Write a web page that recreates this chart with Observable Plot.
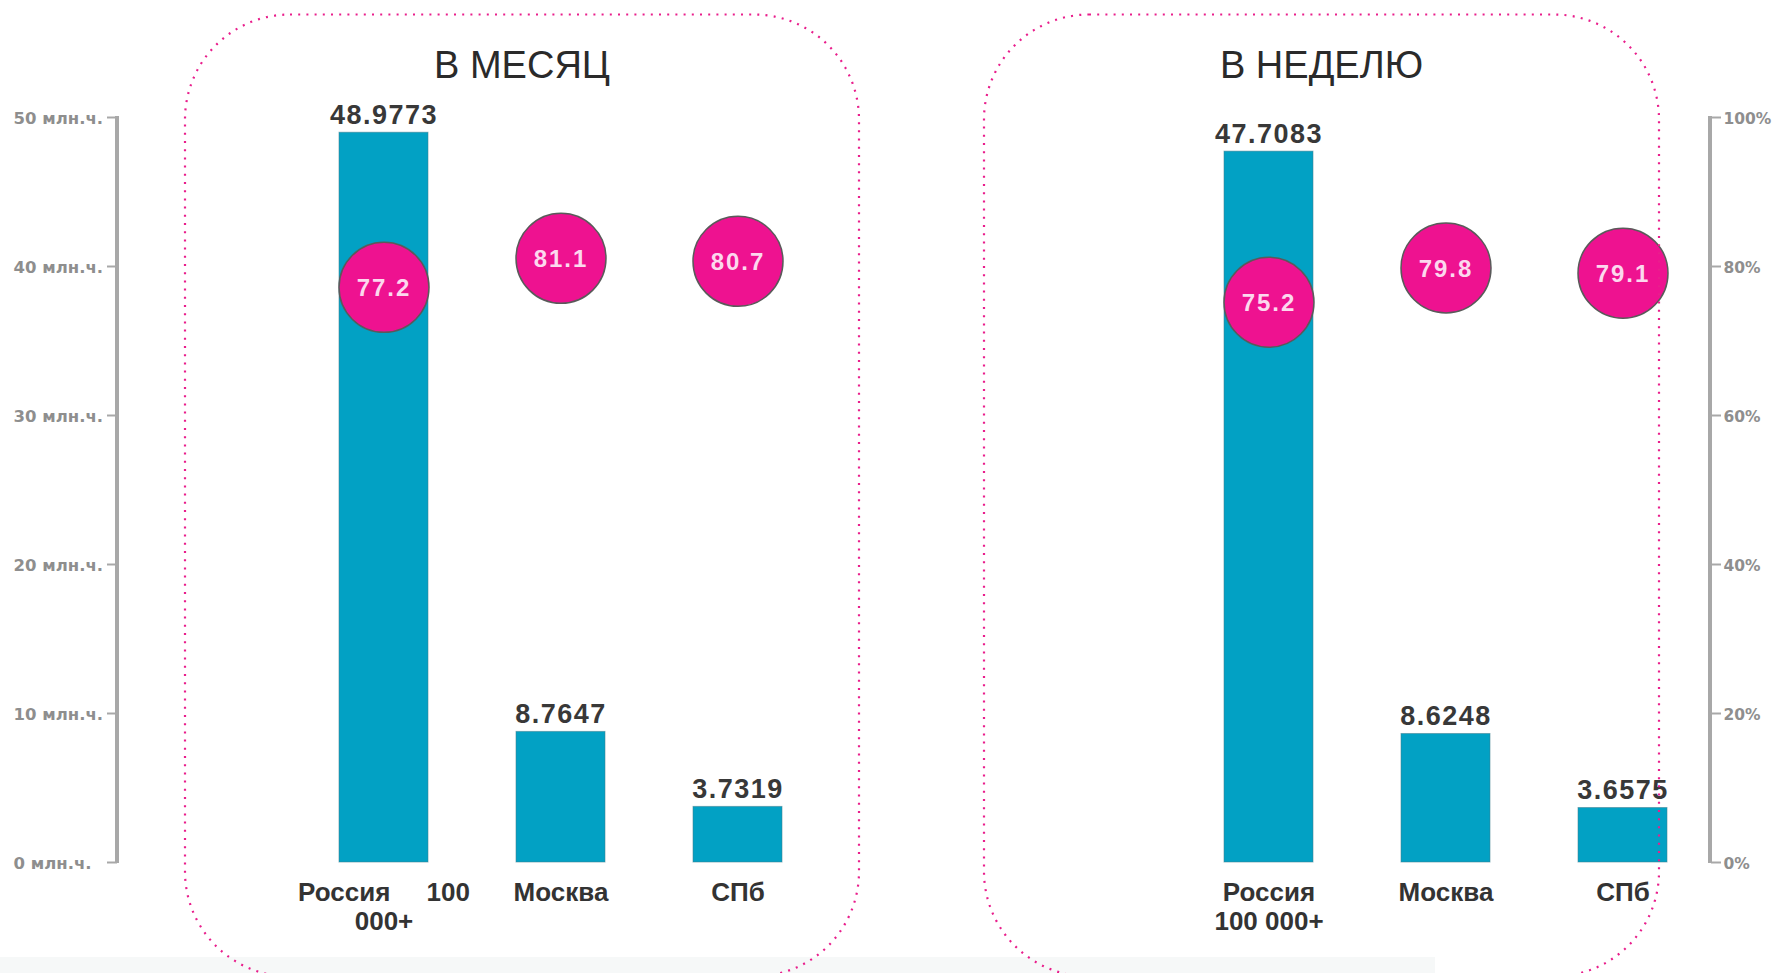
<!DOCTYPE html>
<html>
<head>
<meta charset="utf-8">
<script src="https://cdn.jsdelivr.net/npm/d3@7"></script>
<script src="https://cdn.jsdelivr.net/npm/@observablehq/plot@0.6"></script>
<style>
  html, body { margin: 0; padding: 0; background: #fff; overflow: hidden; }
  #chart svg { display: block; }
</style>
</head>
<body>
<div id="chart"></div>
<script>
// ---------- data ----------
const categories = ["Россия 100 000+", "Москва", "СПб"];
const monthReach = [48.9773, 8.7647, 3.7319];   // млн. человек
const monthShare = [77.2, 81.1, 80.7];          // %
const weekReach = [47.7083, 8.6248, 3.6575];
const weekShare = [75.2, 79.8, 79.1];
const panelTitles = ["В МЕСЯЦ", "В НЕДЕЛЮ"];
const monthTickLabels = ["Россия\u00a0\u00a0\u00a0\u00a0\u00a0100\n000+", "Москва", "СПб"];
const weekTickLabels = ["Россия\n100 000+", "Москва", "СПб"];
const reachTicks = [0, 10, 20, 30, 40, 50];
const reachTickLabels = ["0 млн.ч.", "10 млн.ч.", "20 млн.ч.", "30 млн.ч.", "40 млн.ч.", "50 млн.ч."];
const shareTickLabels = ["0%", "20%", "40%", "60%", "80%", "100%"];
const slots = ["m0", "m1", "m2", "gap0", "gap1", "w0", "w1", "w2"];

// table built from the arrays
const rows = [
  ...categories.map((c, i) => ({slot: "m" + i, category: c, label: monthTickLabels[i], reach: monthReach[i], share: monthShare[i]})),
  ...categories.map((c, i) => ({slot: "w" + i, category: c, label: weekTickLabels[i], reach: weekReach[i], share: weekShare[i]}))
];

// ---------- style ----------
const W = 1779, H = 973;
const BAR = "#02a1c4", PINK = "#ee1290", AXIS = "#a8a8a8", LABEL = "#8e8e8e";
const SANS = "'Liberation Sans', Arial, sans-serif";
const AXFONT = "'DejaVu Sans', sans-serif";

const plot = Plot.plot({
  width: W, height: H,
  marginTop: 117, marginBottom: 111, marginLeft: 117, marginRight: 69,
  style: {background: "transparent", fontFamily: SANS, overflow: "visible"},
  x: {type: "band", domain: slots, range: [294.5, 1710.5], paddingInner: 0.5, paddingOuter: 0.25, axis: null},
  // right axis (0–100 %) shares the pixel span of the left one (0–50 млн.ч.)
  y: {domain: [0, 50], axis: null, label: null},
  marks: [
    Plot.axisY(reachTicks, {anchor: "left", label: null, tickSize: 10, tickFormat: () => "", stroke: AXIS, strokeWidth: 2}),
    Plot.axisY(reachTicks, {anchor: "right", label: null, tickSize: 10, tickFormat: () => "", stroke: AXIS, strokeWidth: 2}),
    Plot.text(reachTicks, {y: d => d, text: (d, i) => reachTickLabels[i], frameAnchor: "left", textAnchor: "start", dx: -104, dy: 1,
      lineAnchor: "middle", fontFamily: AXFONT, fontWeight: "bold", fontSize: 16.5, fill: LABEL}),
    Plot.text(reachTicks, {y: d => d, text: (d, i) => shareTickLabels[i], frameAnchor: "right", textAnchor: "start", dx: 13, dy: 2,
      lineAnchor: "middle", fontFamily: AXFONT, fontWeight: "bold", fontSize: 15.5, fill: LABEL}),
    Plot.barY(rows, {x: "slot", y: "reach", fill: BAR, stroke: "#3f7f8f", strokeOpacity: 0.55, strokeWidth: 1}),
    Plot.text(rows, {x: "slot", y: "reach", text: d => String(d.reach), dy: -9, lineAnchor: "bottom",
      fontSize: 27, fontWeight: "bold", fill: "#383838"}),
    Plot.text(rows, {x: "slot", y: 0, text: "label", lineAnchor: "top", dy: 19, lineHeight: 1.08,
      fontSize: 26, fontWeight: "bold", fill: "#333"}),
    Plot.dot(rows, {x: "slot", y: d => d.share / 2, r: 45, fill: PINK, stroke: "#5a5a5a", strokeWidth: 1.5}),
    Plot.text(rows, {x: "slot", y: d => d.share / 2, text: d => d.share.toFixed(1), lineAnchor: "middle", dy: 1,
      fontSize: 24, fontWeight: "bold", fill: "#fcd8ee"})
  ]
});

// letter spacing for the value labels and bubble labels
const textGroups = plot.querySelectorAll('g[aria-label="text"]');
if (textGroups.length >= 5) {
  textGroups[2].setAttribute("letter-spacing", "1.5");
  textGroups[4].setAttribute("letter-spacing", "2");
}

const svg = d3.select(plot);
const ys = plot.scale("y");
const y0 = ys.apply(0), y50 = ys.apply(50);

// faint strip at the very bottom
svg.insert("rect", ":first-child")
  .attr("x", 0).attr("y", 957).attr("width", 1435).attr("height", 16)
  .attr("fill", "#f6f8f8");

// axis spines
const spines = svg.append("g").attr("stroke", AXIS).attr("stroke-width", 4).attr("fill", "none");
spines.append("line").attr("x1", 117).attr("x2", 117).attr("y1", y50 - 1).attr("y2", y0 + 1);
spines.append("line").attr("x1", W - 69).attr("x2", W - 69).attr("y1", y50 - 1).attr("y2", y0 + 1);

// panel boxes (dotted, rounded) and titles
const boxes = [{x0: 185, x1: 859}, {x0: 984, x1: 1659}];
const deco = svg.append("g");
boxes.forEach((b, i) => {
  deco.append("rect")
    .attr("x", b.x0).attr("y", 14.5).attr("width", b.x1 - b.x0).attr("height", 962)
    .attr("rx", 105).attr("ry", 105)
    .attr("fill", "none").attr("stroke", "#e91e8c").attr("stroke-width", 2.2)
    .attr("stroke-dasharray", "2 6.2");
  deco.append("text")
    .attr("x", (b.x0 + b.x1) / 2).attr("y", 78)
    .attr("text-anchor", "middle")
    .attr("font-family", SANS).attr("font-size", 38).attr("fill", "#2a2a2a")
    .text(panelTitles[i]);
});

document.getElementById("chart").appendChild(plot);
</script>
</body>
</html>
